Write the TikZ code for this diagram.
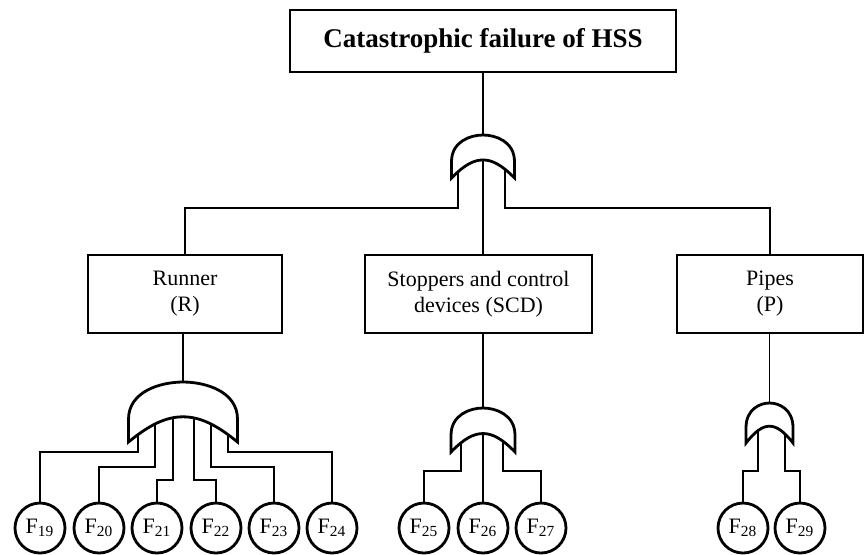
\documentclass[tikz,border=0pt]{standalone}
\usepackage{fontspec}
\setmainfont{Liberation Serif}
\usetikzlibrary{backgrounds}

\tikzset{
  orgate/.pic={
    \draw[gateline,fill=white] (-0.5,1) -- (-0.5,0.62) .. controls (-0.5,0.15) and (-0.2,0) .. (0,0)
      .. controls (0.2,0) and (0.5,0.15) .. (0.5,0.62) -- (0.5,1)
      .. controls (0.3,0.7) and (0.15,0.58) .. (0,0.58)
      .. controls (-0.15,0.58) and (-0.3,0.7) .. (-0.5,1) -- cycle;
    \coordinate (-top) at (0,0);
  }
}

\begin{document}
\begin{tikzpicture}[x=0.5pt,y=-0.5pt,
  event/.style={draw,line width=1.4pt,minimum height=39pt,align=center,font=\fontsize{11}{13}\selectfont},
  basic/.style={draw,circle,line width=1.4pt,inner sep=0pt,minimum size=25pt,font=\fontsize{11}{13}\selectfont},
  gateline/.style={line width=1.4pt},
  wire/.style={line width=0.9pt},
  trunk/.style={line width=1.4pt}]
\useasboundingbox (0,0) rectangle (865,554);

\node[draw,line width=1.4pt,minimum width=193pt,minimum height=31pt,font=\fontsize{13.5}{16}\selectfont\bfseries] (top) at (483,41) {Catastrophic failure of HSS};
\node[event,minimum width=97pt] (runner) at (185,294) {Runner\\(R)};
\node[event,minimum width=113.5pt] (scd) at (478.5,294) {Stoppers and control\\devices (SCD)};
\node[event,minimum width=93pt] (pipes) at (770,294) {Pipes\\(P)};

\node[basic] (f19) at (40,528) {F\textsubscript{19}};
\node[basic] (f20) at (99,528) {F\textsubscript{20}};
\node[basic] (f21) at (157,528) {F\textsubscript{21}};
\node[basic] (f22) at (216,528) {F\textsubscript{22}};
\node[basic] (f23) at (274,528) {F\textsubscript{23}};
\node[basic] (f24) at (332,528) {F\textsubscript{24}};
\node[basic] (f25) at (424,528) {F\textsubscript{25}};
\node[basic] (f26) at (483,528) {F\textsubscript{26}};
\node[basic] (f27) at (541,528) {F\textsubscript{27}};
\node[basic] (f28) at (743,528) {F\textsubscript{28}};
\node[basic] (f29) at (800,528) {F\textsubscript{29}};

\pic[xscale=63,yscale=43] (g1) at (483,135) {orgate};
\pic[xscale=109,yscale=60] (gR) at (183,382) {orgate};
\pic[xscale=64,yscale=44] (gS) at (483,408) {orgate};
\pic[xscale=47,yscale=40] (gP) at (769.5,403) {orgate};

\coordinate (a1) at (458,155);
\coordinate (a2) at (505,155);
\coordinate (r1) at (138,410);
\coordinate (r2) at (155,410);
\coordinate (r3) at (173,410);
\coordinate (r4) at (194,410);
\coordinate (r5) at (211,410);
\coordinate (r6) at (228,410);
\coordinate (s1) at (461,429);
\coordinate (s2) at (503,429);
\coordinate (p1) at (758,422);
\coordinate (p2) at (785,422);

\begin{scope}[on background layer]
\draw[trunk] (top.south) -- (top.south |- scd.north);
\draw[wire] (a1) -- ++(0,53) -| (runner);
\draw[wire] (a2) -- ++(0,53) -| (pipes);

\draw[wire] (gR-top |- runner.south) -- (gR-top);
\draw[wire] (r1) -- ++(0,42) -| (f19);
\draw[wire] (r2) -- ++(0,57) -| (f20);
\draw[wire] (r3) -- ++(0,70) -| (f21);
\draw[wire] (r4) -- ++(0,70) -| (f22);
\draw[wire] (r5) -- ++(0,57) -| (f23);
\draw[wire] (r6) -- ++(0,42) -| (f24);

\draw[wire] (scd.south -| f26) -- (f26);
\draw[wire] (s1) -- ++(0,42) -| (f25);
\draw[wire] (s2) -- ++(0,42) -| (f27);

\draw[wire] (gP-top |- pipes.south) -- (gP-top);
\draw[wire] (p1) -- ++(0,49) -| (f28);
\draw[wire] (p2) -- ++(0,49) -| (f29);
\end{scope}
\end{tikzpicture}
\end{document}
